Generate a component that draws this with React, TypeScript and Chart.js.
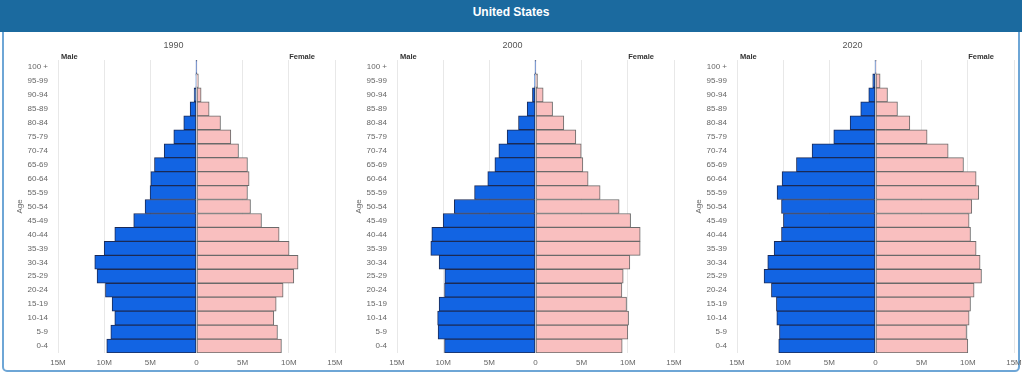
import React, { useEffect, useRef } from "react";
import { Chart, registerables } from "chart.js";

Chart.register(...registerables);

const AGE_GROUPS = [
  "100 +", "95-99", "90-94", "85-89", "80-84", "75-79", "70-74", "65-69", "60-64", "55-59",
  "50-54", "45-49", "40-44", "35-39", "30-34", "25-29", "20-24", "15-19", "10-14", "5-9", "0-4",
];

// values in millions, ordered as AGE_GROUPS (top to bottom)
const MALE_1990 = [0.01, 0.07, 0.26, 0.69, 1.38, 2.46, 3.5, 4.55, 4.95, 5.03, 5.57, 6.8, 8.85, 10.0, 11.02, 10.77, 9.86, 9.14, 8.85, 9.28, 9.72];
const FEMALE_1990 = [0.03, 0.2, 0.5, 1.37, 2.6, 3.72, 4.55, 5.52, 5.7, 5.52, 5.85, 7.04, 8.95, 10.03, 11.0, 10.54, 9.38, 8.63, 8.37, 8.77, 9.2];

const MALE_2000 = [0.01, 0.1, 0.33, 0.9, 1.84, 3.07, 3.97, 4.4, 5.17, 6.6, 8.8, 10.0, 11.23, 11.34, 10.44, 9.82, 9.85, 10.44, 10.6, 10.55, 9.85];
const FEMALE_2000 = [0.04, 0.22, 0.83, 1.85, 3.07, 4.37, 4.95, 5.13, 5.7, 7.0, 9.06, 10.3, 11.34, 11.34, 10.22, 9.5, 9.36, 9.86, 10.08, 10.0, 9.39];

const MALE_2020 = [0.02, 0.3, 0.73, 1.6, 2.75, 4.52, 6.87, 8.56, 10.12, 10.66, 10.18, 9.97, 10.18, 10.98, 11.67, 12.07, 11.27, 10.73, 10.69, 10.4, 10.48];
const FEMALE_2020 = [0.08, 0.5, 1.3, 2.38, 3.72, 5.59, 7.87, 9.53, 10.9, 11.19, 10.43, 10.14, 10.29, 10.9, 11.33, 11.48, 10.68, 10.29, 10.14, 9.86, 10.0];

const X_MIN = -15;
const X_MAX = 15;
const X_STEP = 5;

const TITLE = "United States";
const YEARS = ["1990", "2000", "2020"];
const MALES = [MALE_1990, MALE_2000, MALE_2020];
const FEMALES = [FEMALE_1990, FEMALE_2000, FEMALE_2020];

const FONT = '"Liberation Sans", Arial, sans-serif';

const CANVAS_W = 341;
const CANVAS_H = 338;

function Pyramid({ year, male, female, left }: { year: string; male: number[]; female: number[]; left: number }) {
  const ref = useRef<HTMLCanvasElement | null>(null);
  useEffect(() => {
    if (!ref.current) return;
    const labelPlugin = {
      id: "pyrLabels",
      afterDraw(chart: any) {
        const { ctx, chartArea } = chart;
        ctx.save();
        ctx.textBaseline = "middle";
        ctx.fillStyle = "#555";
        ctx.font = `9px ${FONT}`;
        ctx.textAlign = "center";
        ctx.fillText(year, 169.5, 12);
        ctx.fillStyle = "#333";
        ctx.font = `bold 7.5px ${FONT}`;
        ctx.textAlign = "left";
        ctx.fillText("Male", chartArea.left + 3, chartArea.top - 3);
        ctx.textAlign = "right";
        ctx.fillText("Female", chartArea.right - 20, chartArea.top - 3);
        ctx.restore();
      },
    };
    const chart = new Chart(ref.current, {
      type: "bar",
      data: {
        labels: AGE_GROUPS,
        datasets: [
          {
            label: "Male",
            data: male.map((v) => -v),
            backgroundColor: "#1264e3",
            borderColor: "#1b2a55",
            borderWidth: 1,
            borderSkipped: false,
            barPercentage: 1,
            categoryPercentage: 1,
          },
          {
            label: "Female",
            data: female,
            backgroundColor: "#f9bfbf",
            borderColor: "#6a6a6a",
            borderWidth: 1,
            borderSkipped: false,
            barPercentage: 1,
            categoryPercentage: 1,
          },
        ],
      },
      options: {
        indexAxis: "y",
        responsive: false,
        animation: false,
        devicePixelRatio: 1,
        layout: { padding: { top: 26, left: 7, right: 10, bottom: 0 } },
        plugins: {
          legend: { display: false },
          title: { display: false },
          tooltip: { enabled: false },
        },
        scales: {
          x: {
            stacked: true,
            min: X_MIN,
            max: X_MAX,
            border: { display: false },
            grid: { color: "#e8e8e8", lineWidth: 1, drawTicks: false },
            ticks: {
              stepSize: X_STEP,
              padding: 5,
              color: "#666",
              font: { size: 8, family: FONT },
              maxRotation: 0,
              callback: (v: any) => (Number(v) === 0 ? "0" : `${Math.abs(Number(v))}M`),
            },
            afterFit: (s: any) => {
              s.height = 19;
              s.paddingLeft = 0;
              s.paddingRight = 0;
            },
          },
          y: {
            stacked: true,
            border: { display: false },
            grid: { display: false, drawTicks: false },
            ticks: {
              padding: 10,
              color: "#666",
              font: { size: 8, family: FONT },
              autoSkip: false,
            },
            title: {
              display: true,
              text: "Age",
              color: "#666",
              font: { size: 8, family: FONT },
            },
            afterFit: (s: any) => {
              s.width = 47;
            },
          },
        },
      },
      plugins: [labelPlugin],
    } as any);
    return () => chart.destroy();
  }, [year, male, female]);
  return (
    <canvas
      ref={ref}
      width={CANVAS_W}
      height={CANVAS_H}
      style={{ position: "absolute", left, top: 34, width: CANVAS_W, height: CANVAS_H, display: "block" }}
    />
  );
}

export default function App() {
  const lefts = [4, 343, 683];
  return (
    <div style={{ position: "fixed", left: 0, top: 0, width: 1024, height: 376, background: "#fff", overflow: "hidden" }}>
      <div
        style={{
          position: "absolute",
          left: 2,
          top: 20,
          width: 1018,
          height: 352,
          border: "2px solid #6ea6d6",
          borderRadius: 5,
          boxSizing: "border-box",
        }}
      />
      <div
        style={{
          position: "absolute",
          left: 0,
          top: 0,
          width: 1022,
          height: 32,
          background: "#1b6a9f",
          color: "#fff",
          fontFamily: FONT,
          fontWeight: "bold",
          fontSize: 12,
          textAlign: "center",
          lineHeight: "25px",
        }}
      >
        {TITLE}
      </div>
      {YEARS.map((y, i) => (
        <Pyramid key={y} year={y} male={MALES[i]} female={FEMALES[i]} left={lefts[i]} />
      ))}
    </div>
  );
}
